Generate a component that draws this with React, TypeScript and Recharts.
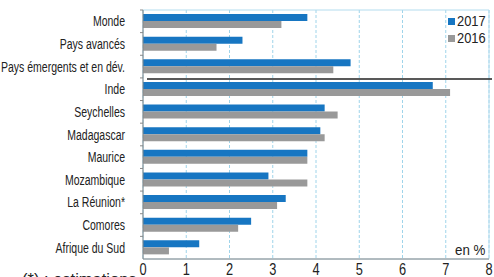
import React from 'react'
import {
  BarChart,
  Bar,
  XAxis,
  YAxis,
  CartesianGrid,
  ReferenceLine,
  ReferenceArea,
} from 'recharts'

// Croissance du PIB réel, 2017 vs 2016
const categories = [
  'Monde',
  'Pays avancés',
  'Pays émergents et en dév.',
  'Inde',
  'Seychelles',
  'Madagascar',
  'Maurice',
  'Mozambique',
  'La Réunion*',
  'Comores',
  'Afrique du Sud',
]
const values2017 = [3.8, 2.3, 4.8, 6.7, 4.2, 4.1, 3.8, 2.9, 3.3, 2.5, 1.3]
const values2016 = [3.2, 1.7, 4.4, 7.1, 4.5, 4.2, 3.8, 3.8, 3.1, 2.2, 0.6]
const xTicks = [0, 1, 2, 3, 4, 5, 6, 7, 8]

const W = 494
const H = 277
const TOP = 10
const X_AXIS_H = 18
const BLUE = '#1776c2'
const GREY = '#999999'
const FONT = "'Liberation Sans', Arial, sans-serif"

// demi-bande pour placer les graduations entre les catégories
const HALF_BAND = (H - TOP - X_AXIS_H) / categories.length / 2

const data = categories.map((name, i) => ({
  name,
  y2017: values2017[i],
  y2016: values2016[i],
}))

function CatTick(props: any) {
  const { x, y, payload } = props
  return (
    <g transform={`translate(${x},${y})`}>
      <line x1={15} x2={18} y1={-HALF_BAND} y2={-HALF_BAND} stroke="#888" />
      <text
        textAnchor="end"
        transform="scale(0.75,1)"
        dy={5}
        fontSize={14}
        fontFamily={FONT}
        fill="#222"
      >
        {payload.value}
      </text>
    </g>
  )
}

function NumTick(props: any) {
  const { x, y, payload } = props
  return (
    <g transform={`translate(${x},${y})`}>
      <text
        textAnchor="middle"
        transform="scale(0.8,1)"
        dy={16.5}
        fontSize={16}
        fontFamily={FONT}
        fill="#222"
      >
        {payload.value}
      </text>
    </g>
  )
}

const legendItems = [
  { label: '2017', color: BLUE, top: 12 },
  { label: '2016', color: GREY, top: 29 },
]

export default function App() {
  return (
    <div style={{ position: 'absolute', left: 0, top: 0, width: W, height: H, fontFamily: FONT, color: '#222' }}>
      <BarChart
        width={W}
        height={H}
        data={data}
        layout="vertical"
        margin={{ top: TOP, right: 5, left: 0, bottom: 0 }}
        barGap={0}
        barSize={7}
      >
        <CartesianGrid horizontal={false} strokeDasharray="3 2" stroke="#9fd4ea" />
        <ReferenceArea x1={0} x2={8} fill="none" stroke="#b3dcee" strokeWidth={1} />
        <XAxis
          type="number"
          domain={[0, 8]}
          ticks={xTicks}
          interval={0}
          height={X_AXIS_H}
          tickSize={0}
          tickMargin={0}
          tickLine={false}
          axisLine={{ stroke: '#888' }}
          tick={<NumTick />}
        />
        <YAxis
          type="category"
          dataKey="name"
          width={143}
          interval={0}
          tickSize={0}
          tickMargin={18}
          tickLine={false}
          axisLine={{ stroke: '#888' }}
          tick={<CatTick />}
        />
        <Bar dataKey="y2017" fill={BLUE} isAnimationActive={false} />
        <Bar dataKey="y2016" fill={GREY} isAnimationActive={false} />
        {/* séparation entre agrégats et pays */}
        <ReferenceLine
          y="Inde"
          position="start"
          stroke="#222"
          strokeWidth={1.5}
          shape={(p: any) => (
            <line x1={p.x1 + 4} x2={p.x2 + 3} y1={p.y1 + 1} y2={p.y2 + 1} stroke="#222" strokeWidth={1.5} />
          )}
        />
      </BarChart>

      {legendItems.map(item => (
        <div key={item.label} style={{ position: 'absolute', left: 448, top: item.top, display: 'flex', alignItems: 'center', fontSize: 14, lineHeight: '18px' }}>
          <span style={{ display: 'inline-block', width: 7, height: 7, background: item.color, marginRight: 2 }} />
          <span style={{ display: 'inline-block', transform: 'scaleX(0.92)', transformOrigin: 'left center' }}>{item.label}</span>
        </div>
      ))}

      <div style={{ position: 'absolute', left: 455, top: 243, fontSize: 14, lineHeight: '14px', transform: 'scaleX(0.95)', transformOrigin: 'left top' }}>
        en %
      </div>
      <div style={{ position: 'absolute', left: 22, top: 271, fontSize: 16.5, lineHeight: '16.5px', whiteSpace: 'nowrap' }}>
        (*) : estimations
      </div>
    </div>
  )
}
